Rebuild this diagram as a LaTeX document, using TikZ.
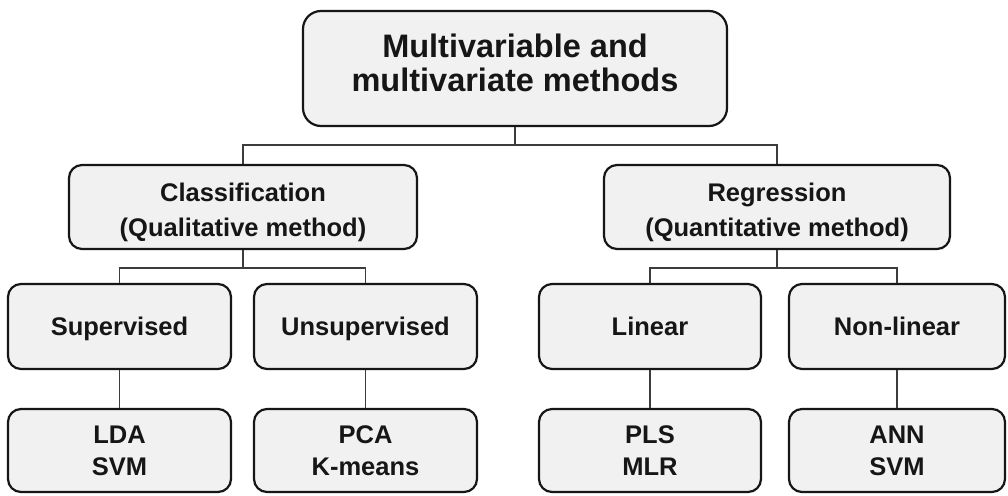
\documentclass[tikz,border=0pt]{standalone}
\usepackage{fontspec}
\setmainfont{Liberation Sans}
\definecolor{boxfill}{RGB}{241,241,241}
\definecolor{boxline}{RGB}{22,22,22}
\definecolor{linkline}{RGB}{60,60,60}
\definecolor{inktext}{RGB}{22,22,22}
\begin{document}
\begin{tikzpicture}[x=1pt,y=-1pt,
  box/.style={draw=boxline, line width=2.2pt, fill=boxfill, rounded corners=13pt,
    inner sep=0pt, align=center, text=inktext,
    font=\fontsize{25.5}{32}\selectfont\bfseries},
  midbox/.style={box, minimum height=84pt,
    font=\fontsize{25.5}{35}\selectfont\bfseries, text height=64.8pt},
  branchbox/.style={box, minimum height=85pt, text depth=0pt},
  leafbox/.style={box, minimum height=83pt},
  link/.style={draw=linkline, line width=1.3pt}]
\useasboundingbox[fill=white] (0,0) rectangle (1008,495);

% root
\node[box, minimum width=424pt, minimum height=115pt, rounded corners=18pt,
  font=\fontsize{32.5}{34}\selectfont\bfseries, text depth=12pt]
  (root) at (515,68.5) {Multivariable and\\multivariate methods};

% second level
\node[midbox, minimum width=348pt] (class) at (243,207)
  {Classification\\(Qualitative method)};
\node[midbox, minimum width=346pt] (regr) at (777,207)
  {Regression\\(Quantitative method)};

% third level
\node[branchbox, minimum width=223pt] (sup)    at (119.5,326.5) {Supervised};
\node[branchbox, minimum width=223pt] (unsup)  at (365.5,326.5) {Unsupervised};
\node[branchbox, minimum width=222pt] (lin)    at (650,326.5)   {Linear};
\node[branchbox, minimum width=216pt] (nonlin) at (897,326.5)   {Non-linear};

% leaves
\node[leafbox, minimum width=223pt] (lda) at (119.5,450.5) {LDA\\SVM};
\node[leafbox, minimum width=223pt] (pca) at (365.5,450.5) {PCA\\K-means};
\node[leafbox, minimum width=222pt] (pls) at (650,450.5)   {PLS\\MLR};
\node[leafbox, minimum width=216pt] (ann) at (897,450.5)   {ANN\\SVM};

% connectors
\draw[link] (root.south) -- ++(0,18) -| (class.north);
\draw[link] (root.south) -- ++(0,18) -| (regr.north);
\draw[link] (class.south) -- ++(0,18) -| (sup.north);
\draw[link] (class.south) -- ++(0,18) -| (unsup.north);
\draw[link] (regr.south) -- ++(0,18) -| (lin.north);
\draw[link] (regr.south) -- ++(0,18) -| (nonlin.north);
\draw[link] (sup.south) -- (lda.north);
\draw[link] (unsup.south) -- (pca.north);
\draw[link] (lin.south) -- (pls.north);
\draw[link] (nonlin.south) -- (ann.north);
\end{tikzpicture}
\end{document}
